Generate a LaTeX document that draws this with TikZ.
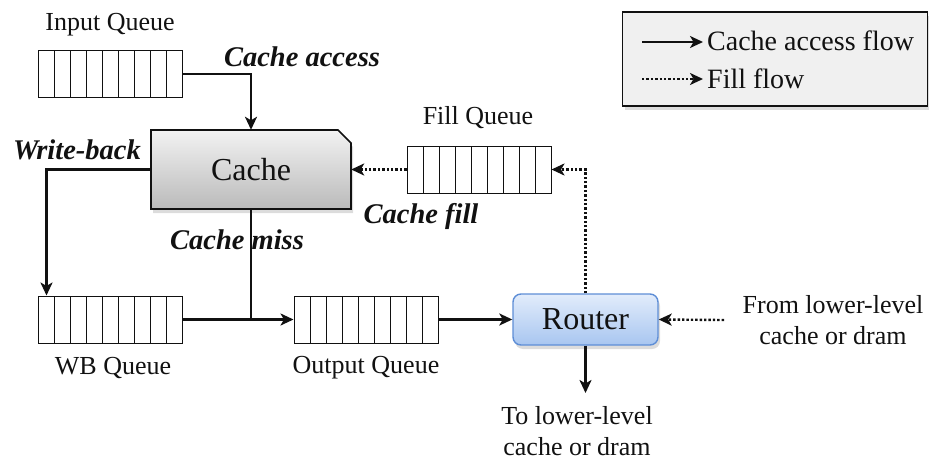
\documentclass[tikz,border=0pt]{standalone}
\usepackage{fontspec}
\setmainfont{LiberationSerif}[Extension=.ttf, UprightFont=*-Regular, BoldFont=*-Bold, ItalicFont=*-Italic, BoldItalicFont=*-BoldItalic]
\usetikzlibrary{arrows.meta,shadows,calc}
\definecolor{ink}{HTML}{111111}
\definecolor{rtop}{HTML}{E2ECFB}
\definecolor{rbot}{HTML}{A8C6F0}
\definecolor{rborder}{HTML}{5E8ED6}
\tikzset{
  flow/.style={draw=ink, line width=2.4pt, -{Stealth[length=13pt,width=12pt,inset=3.5pt]}},
  fillflow/.style={flow, dotted},
  plainline/.style={draw=ink, line width=2.4pt},
  queue/.style={draw=ink, line width=1pt, minimum width=144pt, minimum height=47pt, inner sep=0pt, fill=white,
    path picture={\foreach \i in {1,...,8}{\draw[ink, line width=1pt] ([xshift=\i*16pt]path picture bounding box.south west) -- ([xshift=\i*16pt]path picture bounding box.north west);}}},
  lbl/.style={font=\fontsize{26}{31}\selectfont, align=center, inner sep=0pt, text=ink},
  blbl/.style={font=\fontsize{28.5}{32}\selectfont\bfseries\itshape, inner sep=0pt, text=ink},
  legtxt/.style={font=\fontsize{28}{32}\selectfont, inner sep=0pt, text=ink, anchor=west},
  shad/.style={drop shadow={opacity=0.28, shadow xshift=2pt, shadow yshift=-4pt}},
}
\begin{document}
\begin{tikzpicture}[x=1pt, y=-1pt]
\useasboundingbox (0,0) rectangle (929,460);

% legend
\node[draw=ink, line width=1.2pt, fill=black!6, minimum width=305pt, minimum height=94pt, shad] (legend) at (775,59) {};
\coordinate (l1a) at (642,42);
\coordinate (l1b) at (703,42);
\coordinate (l2a) at (642,79);
\coordinate (l2b) at (703,79);
\draw[flow, line width=2pt] (l1a) -- (l1b);
\draw[fillflow, line width=2pt] (l2a) -- (l2b);
\node[legtxt] (l1t) at (707,41) {Cache access flow};
\node[legtxt] (l2t) at (707,79) {Fill flow};

% queues
\node[queue] (inq) at (110,74) {};
\node[lbl] (inqlbl) at (110,25) {Input Queue};
\node[queue] (wbq) at (110,319.5) {};
\node[lbl] (wbqlbl) at (113,368) {WB Queue};
\node[queue] (outq) at (366,319.5) {};
\node[lbl] (outqlbl) at (366,368) {Output Queue};
\node[queue] (fillq) at (479,169.5) {};
\node[lbl] (fillqlbl) at (478,118) {Fill Queue};

% cache
\path[draw=ink, line width=1.6pt, top color=black!5, bottom color=black!27, shad]
  (151,130) -- (338,130) -- (351,143) -- (351,209) -- (151,209) -- cycle;
\node[minimum width=200pt, minimum height=79pt, inner sep=0pt, font=\fontsize{32}{36}\selectfont, text=ink] (cache) at (251,169.5) {Cache};

% router
\node[draw=rborder, line width=1.4pt, rounded corners=8pt, top color=rtop, bottom color=rbot,
      minimum width=145pt, minimum height=51pt, inner sep=0pt, shad,
      font=\fontsize{32}{36}\selectfont, text=ink] (router) at (585.5,319.5) {Router};

% labels
\node[blbl] (acc) at (302,57) {Cache access};
\node[blbl] (wb) at (77,150) {Write-back};
\node[blbl] (miss) at (237,240) {Cache miss};
\node[blbl] (cfill) at (421,216) {Cache fill};
\node[lbl] (tolow) at (577,431) {To lower-level\\cache or dram};
\node[lbl] (fromlow) at (833,320) {From lower-level\\cache or dram};
\coordinate (tolowend) at (585.5,393);
\coordinate (fromlowstart) at (724,320);

% connectors
\draw[flow] (inq.east) -| (cache.north);
\draw[flow] (cache.west) -| ([xshift=9pt]wbq.north west);
\draw[plainline] (cache.south) -- (cache.south |- wbq.east);
\draw[flow] (wbq.east) -- (outq.west);
\draw[flow] (outq.east) -- (router.west);
\draw[flow] (router.south) -- (tolowend);
\draw[fillflow] (fromlowstart) -- (router.east);
\draw[fillflow] (router.north) |- (fillq.east);
\draw[fillflow] (fillq.west) -- (cache.east);
\end{tikzpicture}
\end{document}
